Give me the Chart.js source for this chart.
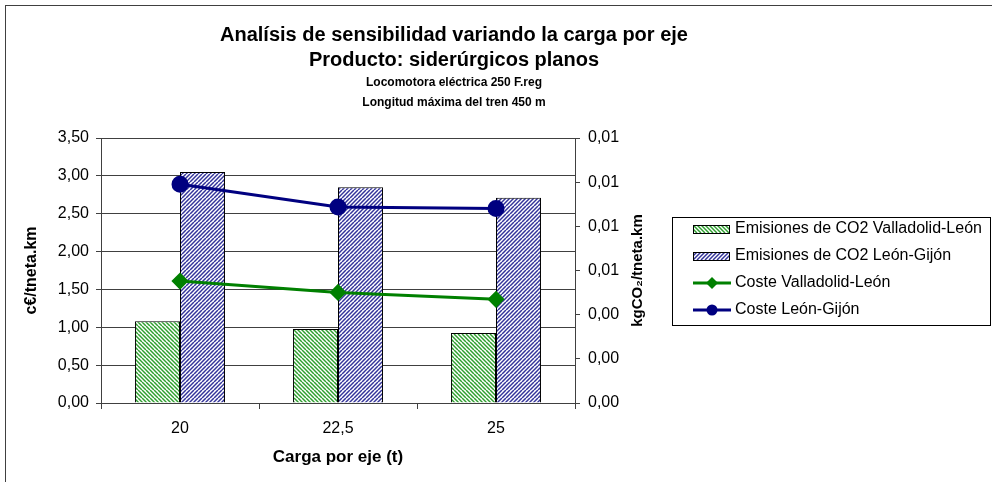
<!DOCTYPE html>
<html>
<head>
<meta charset="utf-8">
<script src="https://cdn.jsdelivr.net/npm/chart.js@4.4.1/dist/chart.umd.min.js"></script>
<style>
  html, body { margin: 0; padding: 0; background: #fff; overflow: hidden; }
  #frame { position: absolute; left: 5px; top: 5px; width: 987px; height: 477px; border-top: 1px solid #404040; border-left: 1px solid #404040; }
  #frame canvas { display: block; }
</style>
</head>
<body>
<div id="frame"><canvas id="chart" width="986" height="476"></canvas></div>
<script>
// chart data
const titleLines = [
  'Analísis de sensibilidad variando la carga por eje',
  'Producto: siderúrgicos planos',
  'Locomotora eléctrica 250 F.reg',
  'Longitud máxima del tren 450 m'
];
const categories = ['20', '22,5', '25'];
const seriesNames = [
  'Emisiones de CO2 Valladolid-León',
  'Emisiones de CO2 León-Gijón',
  'Coste Valladolid-León',
  'Coste León-Gijón'
];
// kgCO2/tneta.km (right axis)
const emisionesVallLeon = [0.00370, 0.00335, 0.00317];
const emisionesLeonGijon = [0.01046, 0.00977, 0.00929];
// c€/tneta.km (left axis)
const costeVallLeon = [1.61, 1.46, 1.37];
const costeLeonGijon = [2.89, 2.59, 2.57];

const leftMax = 3.5, leftStep = 0.5;
const rightMax = 0.012, rightStep = 0.002;

const FONT = '"Liberation Sans", Arial, sans-serif';
Chart.defaults.font.family = FONT;
Chart.defaults.color = '#000';

function hatch(color, dir, width) {
  const c = document.createElement('canvas');
  c.width = 8; c.height = 8;
  const g = c.getContext('2d');
  g.fillStyle = '#fff';
  g.fillRect(0, 0, 8, 8);
  g.strokeStyle = color;
  g.lineWidth = width;
  for (let k = -8; k <= 16; k += 4) {
    g.beginPath();
    if (dir > 0) { g.moveTo(k, 8); g.lineTo(k + 8, 0); }
    else { g.moveTo(k, 0); g.lineTo(k + 8, 8); }
    g.stroke();
  }
  return g.createPattern(c, 'repeat');
}

const greenHatch = hatch('#2f9f2f', -1, 1.5);
const blueHatch = hatch('#33339a', 1, 1.5);

function barIcon(pattern) {
  const c = document.createElement('canvas');
  c.width = 37; c.height = 9;
  const g = c.getContext('2d');
  g.fillStyle = pattern;
  g.fillRect(0, 0, 37, 9);
  g.strokeStyle = '#000';
  g.lineWidth = 1;
  g.strokeRect(0.5, 0.5, 36, 8);
  return c;
}

function lineIcon(color, marker) {
  const c = document.createElement('canvas');
  c.width = 38; c.height = 14;
  const g = c.getContext('2d');
  g.strokeStyle = color;
  g.fillStyle = color;
  g.lineWidth = 3;
  g.beginPath(); g.moveTo(0, 7); g.lineTo(38, 7); g.stroke();
  g.beginPath();
  if (marker === 'circle') {
    g.arc(19, 7, 5.5, 0, Math.PI * 2);
  } else {
    g.moveTo(19, 1); g.lineTo(25, 7); g.lineTo(19, 13); g.lineTo(13, 7); g.closePath();
  }
  g.fill();
  return c;
}

const legendIcons = [
  barIcon(greenHatch),
  barIcon(blueHatch),
  lineIcon('#008000', 'diamond'),
  lineIcon('#000080', 'circle')
];

const fmt = (v) => Number(v).toFixed(2).replace('.', ',');

const titleBlock = {
  id: 'titleBlock',
  afterDraw(chart) {
    const ctx = chart.ctx;
    const sizes = [20, 20, 12, 12];
    const ys = [29, 54, 77, 97];
    ctx.save();
    ctx.fillStyle = '#000';
    ctx.textAlign = 'center';
    ctx.textBaseline = 'middle';
    titleLines.forEach((t, i) => {
      ctx.font = 'bold ' + sizes[i] + 'px ' + FONT;
      ctx.fillText(t, 448, ys[i]);
    });
    ctx.restore();
  }
};

const rightTitle = {
  id: 'rightTitle',
  afterDraw(chart) {
    const s = chart.scales.y1;
    const ctx = chart.ctx;
    ctx.save();
    ctx.translate(s.left + 63, (s.top + s.bottom) / 2);
    ctx.rotate(-Math.PI / 2);
    ctx.fillStyle = '#000';
    ctx.textAlign = 'center';
    ctx.textBaseline = 'middle';
    ctx.font = 'bold 15px ' + FONT;
    ctx.fillText('kgCO₂/tneta.km', 0, 0);
    ctx.restore();
  }
};

// legend in a framed box to the right of the right axis
const legendBlock = {
  id: 'legendBlock',
  afterDraw(chart) {
    const ctx = chart.ctx;
    const x0 = chart.scales.y1.right;
    const rowH = 27;
    const boxH = rowH * seriesNames.length;
    const top = Math.round((chart.chartArea.top + chart.chartArea.bottom) / 2 - boxH / 2);
    ctx.save();
    ctx.strokeStyle = '#000';
    ctx.lineWidth = 1;
    ctx.strokeRect(x0 + 0.5, top + 0.5, 318, boxH);
    ctx.font = '16px ' + FONT;
    ctx.fillStyle = '#000';
    ctx.textAlign = 'left';
    ctx.textBaseline = 'middle';
    seriesNames.forEach((name, i) => {
      const cy = top + 12 + rowH * i;
      const icon = legendIcons[i];
      ctx.drawImage(icon, x0 + 21, Math.round(cy - icon.height / 2));
      ctx.fillText(name, x0 + 63, cy);
    });
    ctx.restore();
  }
};

new Chart(document.getElementById('chart'), {
  type: 'bar',
  data: {
    labels: categories,
    datasets: [
      { type: 'bar', label: seriesNames[0], data: emisionesVallLeon, yAxisID: 'y1', order: 1,
        backgroundColor: greenHatch, borderColor: '#000', borderWidth: 1 },
      { type: 'bar', label: seriesNames[1], data: emisionesLeonGijon, yAxisID: 'y1', order: 1,
        backgroundColor: blueHatch, borderColor: '#000', borderWidth: 1 },
      { type: 'line', label: seriesNames[2], data: costeVallLeon, yAxisID: 'y', order: 0,
        borderColor: '#008000', backgroundColor: '#008000', borderWidth: 3,
        pointStyle: 'rectRot', pointRadius: 6.5, pointHoverRadius: 6.5 },
      { type: 'line', label: seriesNames[3], data: costeLeonGijon, yAxisID: 'y', order: 0,
        borderColor: '#000080', backgroundColor: '#000080', borderWidth: 3,
        pointStyle: 'circle', pointRadius: 7, pointHoverRadius: 7 }
    ]
  },
  options: {
    responsive: false,
    animation: false,
    layout: { padding: { top: 132, right: 320, bottom: 0, left: 0 } },
    datasets: { bar: { categoryPercentage: 0.57, barPercentage: 1 } },
    plugins: {
      title: { display: false },
      tooltip: { enabled: false },
      legend: { display: false }
    },
    scales: {
      x: {
        offset: true,
        grid: { display: true, drawOnChartArea: false, offset: true, tickLength: 6, color: '#404040' },
        border: { color: '#404040' },
        ticks: { font: { size: 16 }, padding: 10, color: '#000' },
        title: { display: true, text: 'Carga por eje (t)', font: { size: 17, weight: 'bold' }, color: '#000',
          padding: { top: 0, bottom: 14 } },
        afterFit: s => { s.height = 79; }
      },
      y: {
        position: 'left',
        min: 0, max: leftMax,
        ticks: { stepSize: leftStep, font: { size: 16 }, padding: 7, color: '#000', callback: v => fmt(v) },
        grid: { color: '#404040', tickLength: 5 },
        border: { color: '#404040' },
        title: { display: true, text: 'c€/tneta.km', font: { size: 16, weight: 'bold' }, color: '#000',
          padding: { top: 16, bottom: 0 } },
        afterFit: s => { s.width = 95; }
      },
      y1: {
        position: 'right',
        min: 0, max: rightMax,
        ticks: { stepSize: rightStep, font: { size: 16 }, padding: 8, color: '#000', callback: v => fmt(v) },
        grid: { drawOnChartArea: false, color: '#404040', tickLength: 5 },
        border: { color: '#404040' },
        afterFit: s => { s.width = 97; }
      }
    }
  },
  plugins: [titleBlock, rightTitle, legendBlock]
});
</script>
</body>
</html>
